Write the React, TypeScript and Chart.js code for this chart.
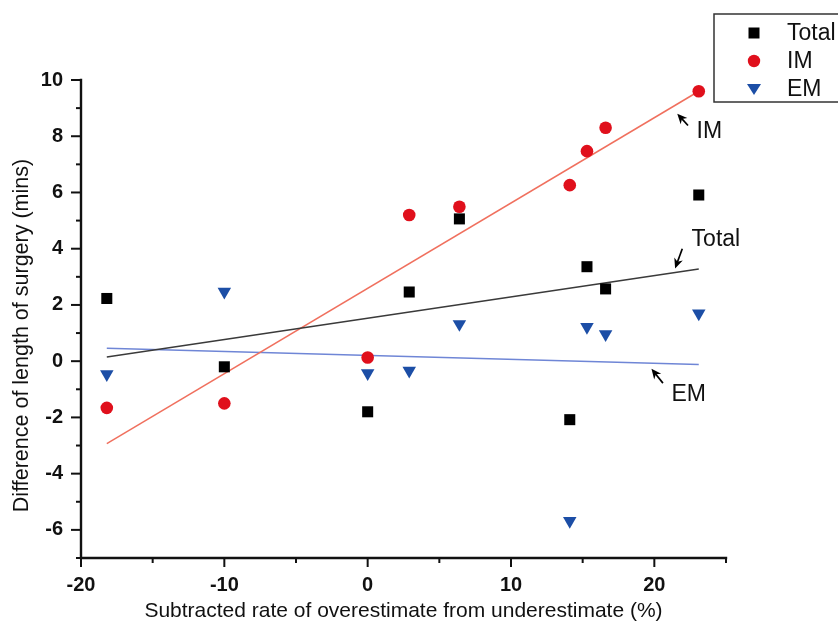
import React, { useEffect, useRef } from 'react';
import { Chart, registerables } from 'chart.js';

Chart.register(...registerables);

// ---- data ----
const xValues = [-18.2, -10, 0, 2.9, 6.4, 14.1, 15.3, 16.6, 23.1];
const totalValues = [2.23, -0.2, -1.8, 2.46, 5.06, -2.08, 3.36, 2.57, 5.91];
const imValues = [-1.66, -1.5, 0.13, 5.2, 5.49, 6.26, 7.47, 8.3, 9.6];
const emValues = [-0.46, 2.47, -0.43, -0.34, 1.32, -5.68, 1.22, 0.96, 1.7];

const fitX = [-18.2, 23.1];
const totalFit = [0.15, 3.28];
const imFit = [-2.93, 9.6];
const emFit = [0.46, -0.12];

const seriesNames = ['Total', 'IM', 'EM'];
const xTickLabels = [-20, -10, 0, 10, 20];
const yTickLabels = [-6, -4, -2, 0, 2, 4, 6, 8, 10];

const xTitle = 'Subtracted rate of overestimate from underestimate (%)';
const yTitle = 'Difference of length of surgery (mins)';

const COLORS = {
  total: '#000000',
  im: '#e0101c',
  em: '#1c4ea6',
  totalFit: '#3a3a3a',
  imFit: '#f0705e',
  emFit: '#6f86d6',
};

const FONT = '"Liberation Sans", Arial, Helvetica, sans-serif';

function pairs(xs: number[], ys: number[]) {
  return xs.map((x, i) => ({ x, y: ys[i] }));
}

function drawMarker(ctx: CanvasRenderingContext2D, kind: string, x: number, y: number, color: string) {
  ctx.save();
  ctx.fillStyle = color;
  ctx.beginPath();
  if (kind === 'rect') {
    ctx.rect(x - 5.5, y - 5.5, 11, 11);
  } else if (kind === 'circle') {
    ctx.arc(x, y, 6.2, 0, Math.PI * 2);
  } else {
    ctx.moveTo(x - 7, y - 5);
    ctx.lineTo(x + 7, y - 5);
    ctx.lineTo(x, y + 6);
    ctx.closePath();
  }
  ctx.fill();
  ctx.restore();
}

function arrow(ctx: CanvasRenderingContext2D, x1: number, y1: number, x2: number, y2: number) {
  // from (x1,y1) tail to (x2,y2) tip
  const ang = Math.atan2(y2 - y1, x2 - x1);
  const headLen = 10;
  const headW = 4.5;
  ctx.save();
  ctx.strokeStyle = '#000';
  ctx.fillStyle = '#000';
  ctx.lineWidth = 1.7;
  ctx.beginPath();
  ctx.moveTo(x1, y1);
  ctx.lineTo(x2 - Math.cos(ang) * headLen * 0.6, y2 - Math.sin(ang) * headLen * 0.6);
  ctx.stroke();
  ctx.beginPath();
  ctx.moveTo(x2, y2);
  ctx.lineTo(
    x2 - Math.cos(ang) * headLen - Math.sin(ang) * headW,
    y2 - Math.sin(ang) * headLen + Math.cos(ang) * headW
  );
  ctx.lineTo(x2 - Math.cos(ang) * headLen * 0.7, y2 - Math.sin(ang) * headLen * 0.7);
  ctx.lineTo(
    x2 - Math.cos(ang) * headLen + Math.sin(ang) * headW,
    y2 - Math.sin(ang) * headLen - Math.cos(ang) * headW
  );
  ctx.closePath();
  ctx.fill();
  ctx.restore();
}

const decorPlugin = {
  id: 'decor',
  afterDraw(chart: any) {
    const ctx: CanvasRenderingContext2D = chart.ctx;
    const xs = chart.scales.x;
    const ys = chart.scales.y;
    const left = xs.getPixelForValue(-20);
    const right = xs.getPixelForValue(25);
    const top = ys.getPixelForValue(10);
    const bottom = ys.getPixelForValue(-7);

    // axes lines
    ctx.save();
    ctx.strokeStyle = '#111';
    ctx.lineWidth = 2.4;
    ctx.lineCap = 'square';
    ctx.beginPath();
    ctx.moveTo(left, top);
    ctx.lineTo(left, bottom);
    ctx.lineTo(right, bottom);
    ctx.stroke();

    // ticks
    ctx.lineWidth = 2;
    ctx.lineCap = 'butt';
    for (let v = -20; v <= 25; v += 5) {
      const px = xs.getPixelForValue(v);
      const major = v % 10 === 0;
      ctx.beginPath();
      ctx.moveTo(px, bottom);
      ctx.lineTo(px, bottom + (major ? 9 : 5));
      ctx.stroke();
    }
    for (let v = -7; v <= 10; v += 1) {
      const py = ys.getPixelForValue(v);
      const major = v % 2 === 0;
      ctx.beginPath();
      ctx.moveTo(left, py);
      ctx.lineTo(left - (major ? 10 : 5), py);
      ctx.stroke();
    }
    ctx.restore();

    // y axis title
    ctx.save();
    ctx.translate(22, 335.5);
    ctx.rotate(-Math.PI / 2);
    ctx.fillStyle = '#111';
    ctx.font = `21.5px ${FONT}`;
    ctx.textAlign = 'center';
    ctx.textBaseline = 'middle';
    ctx.fillText(yTitle, 0, 0);
    ctx.restore();

    // annotations (arrows + labels), anchored on the scales
    ctx.save();
    ctx.fillStyle = '#111';
    ctx.font = `23px ${FONT}`;
    ctx.textAlign = 'left';
    ctx.textBaseline = 'alphabetic';
    const P = (x: number, y: number) => [xs.getPixelForValue(x), ys.getPixelForValue(y)];
    // IM
    let a = P(22.35, 8.38), b = P(21.6, 8.8);
    arrow(ctx, a[0], a[1], b[0], b[1]);
    let t = P(22.95, 7.95);
    ctx.fillText(seriesNames[1], t[0], t[1]);
    // Total
    a = P(21.95, 4.0); b = P(21.45, 3.3);
    arrow(ctx, a[0], a[1], b[0], b[1]);
    t = P(22.6, 4.1);
    ctx.fillText(seriesNames[0], t[0], t[1]);
    // EM
    a = P(20.6, -0.78); b = P(19.8, -0.27);
    arrow(ctx, a[0], a[1], b[0], b[1]);
    t = P(21.2, -1.4);
    ctx.fillText(seriesNames[2], t[0], t[1]);
    ctx.restore();

    // legend box
    ctx.save();
    ctx.strokeStyle = '#333';
    ctx.lineWidth = 1.5;
    ctx.strokeRect(714, 14, 140, 88);
    const kinds = ['rect', 'circle', 'tri'];
    const cols = [COLORS.total, COLORS.im, COLORS.em];
    const rows = [33, 61, 89];
    ctx.font = `23px ${FONT}`;
    ctx.textBaseline = 'middle';
    ctx.textAlign = 'left';
    for (let i = 0; i < 3; i++) {
      drawMarker(ctx, kinds[i], 754, rows[i], cols[i]);
      ctx.fillStyle = '#111';
      ctx.fillText(seriesNames[i], 787, rows[i] + 1);
    }
    ctx.restore();
  },
};

export default function App() {
  const ref = useRef<HTMLCanvasElement | null>(null);

  useEffect(() => {
    document.body.style.margin = '0';
    const canvas = ref.current;
    if (!canvas) return;
    const chart = new Chart(canvas, {
      type: 'scatter',
      data: {
        datasets: [
          {
            label: seriesNames[0],
            data: pairs(xValues, totalValues),
            pointStyle: 'rect',
            pointRadius: 7.8,
            backgroundColor: COLORS.total,
            borderColor: COLORS.total,
            borderWidth: 0,
            order: 0,
          },
          {
            label: seriesNames[1],
            data: pairs(xValues, imValues),
            pointStyle: 'circle',
            pointRadius: 6.3,
            backgroundColor: COLORS.im,
            borderColor: COLORS.im,
            borderWidth: 0,
            order: 0,
          },
          {
            label: seriesNames[2],
            data: pairs(xValues, emValues),
            pointStyle: 'triangle',
            rotation: 180,
            pointRadius: 7.8,
            backgroundColor: COLORS.em,
            borderColor: COLORS.em,
            borderWidth: 0,
            order: 0,
          },
          {
            label: 'Total fit',
            data: pairs(fitX, totalFit),
            showLine: true,
            pointRadius: 0,
            borderColor: COLORS.totalFit,
            borderWidth: 1.5,
            order: 1,
          },
          {
            label: 'IM fit',
            data: pairs(fitX, imFit),
            showLine: true,
            pointRadius: 0,
            borderColor: COLORS.imFit,
            borderWidth: 1.5,
            order: 1,
          },
          {
            label: 'EM fit',
            data: pairs(fitX, emFit),
            showLine: true,
            pointRadius: 0,
            borderColor: COLORS.emFit,
            borderWidth: 1.5,
            order: 1,
          },
        ],
      },
      options: {
        responsive: false,
        animation: false,
        events: [],
        layout: { padding: { top: 80, right: 112, bottom: 0, left: 0 } },
        plugins: {
          legend: { display: false },
          tooltip: { enabled: false },
        },
        scales: {
          x: {
            type: 'linear',
            min: -20,
            max: 25,
            grid: { display: false, drawTicks: false },
            border: { display: false },
            afterFit: (s: any) => {
              s.height = 64;
            },
            afterBuildTicks: (s: any) => {
              const t = [];
              for (let v = -20; v <= 25; v += 5) t.push({ value: v });
              s.ticks = t;
            },
            ticks: {
              autoSkip: false,
              maxRotation: 0,
              padding: 15,
              color: '#111',
              font: { family: FONT, size: 20, weight: 'bold' },
              callback: (v: any) => (xTickLabels.includes(Number(v)) ? String(v) : ''),
            },
            title: {
              display: true,
              text: xTitle,
              color: '#111',
              font: { family: FONT, size: 21 },
              padding: { top: 0, bottom: -2 },
            },
          },
          y: {
            type: 'linear',
            min: -7,
            max: 10,
            grid: { display: false, drawTicks: false },
            border: { display: false },
            afterFit: (s: any) => {
              s.width = 81;
            },
            afterBuildTicks: (s: any) => {
              const t = [];
              for (let v = -7; v <= 10; v += 1) t.push({ value: v });
              s.ticks = t;
            },
            ticks: {
              autoSkip: false,
              padding: 18,
              color: '#111',
              font: { family: FONT, size: 20, weight: 'bold' },
              callback: (v: any) => (yTickLabels.includes(Number(v)) ? String(v) : ''),
            },
          },
        },
      },
      plugins: [decorPlugin],
    } as any);
    return () => chart.destroy();
  }, []);

  return (
    <div style={{ position: 'absolute', left: 0, top: 0, width: 838, height: 622, background: '#fff' }}>
      <canvas ref={ref} width={838} height={622} style={{ display: 'block' }} />
    </div>
  );
}
